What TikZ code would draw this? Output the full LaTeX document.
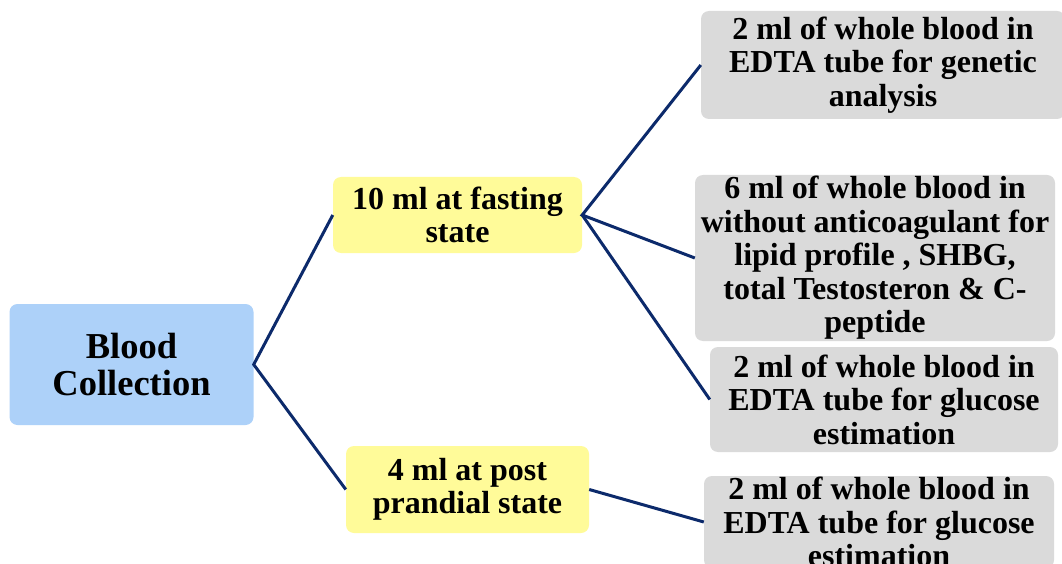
\documentclass[tikz,border=0pt]{standalone}
\usepackage{fontspec}
\setmainfont{Liberation Serif}
\definecolor{rootblue}{HTML}{ADD1F9}
\definecolor{stageyellow}{HTML}{FFFB99}
\definecolor{leafgray}{HTML}{DADADA}
\definecolor{linknavy}{HTML}{0C2A6B}
\tikzset{
  box/.style={rounded corners=8pt, inner sep=0pt, align=center,
    font=\bfseries\fontsize{32}{33.5}\selectfont},
  rootbox/.style={box, fill=rootblue, font=\bfseries\fontsize{36.5}{37}\selectfont},
  stagebox/.style={box, fill=stageyellow},
  leafbox/.style={box, fill=leafgray},
  link/.style={draw=linknavy, line width=3pt}
}
\begin{document}
\begin{tikzpicture}[x=1pt, y=-1pt]
  \useasboundingbox (0,0) rectangle (1062,564);
  \clip (0,0) rectangle (1062,564);
  \fill[white] (0,0) rectangle (1062,564);

  % root
  \node[rootbox, minimum width=244pt, minimum height=121pt] (bc) at (131.5,364.5) {Blood\\Collection};

  % collection stages
  \node[stagebox, minimum width=249pt, minimum height=76pt] (fast) at (457.5,215) {10 ml at fasting\\state};
  \node[stagebox, minimum width=243pt, minimum height=87pt] (post) at (467.5,489.5) {4 ml at post\\prandial state};

  % tubes
  \node[leafbox, minimum width=364pt, minimum height=108pt] (genetic) at (883,65) {2 ml of whole blood in\\EDTA tube for genetic\\analysis};
  \node[leafbox, minimum width=360pt, minimum height=166pt] (lipid) at (875,258) {6 ml of whole blood in\\without anticoagulant for\\lipid profile , SHBG,\\total Testosteron \& C-\\peptide};
  \node[leafbox, minimum width=348pt, minimum height=105pt] (gluA) at (884,399.5) {2 ml of whole blood in\\EDTA tube for glucose\\estimation};
  \node[leafbox, minimum width=350pt, minimum height=92pt] (gluB) at (879,522) {2 ml of whole blood in\\EDTA tube for glucose\\estimation};

  % connectors
  \draw[link] (fast.west) -- (bc.east) -- (post.west);
  \draw[link] (genetic.west) -- (fast.east) -- (lipid.west);
  \draw[link] (fast.east) -- (gluA.west);
  \draw[link] (post.east) -- (gluB.west);
\end{tikzpicture}
\end{document}
